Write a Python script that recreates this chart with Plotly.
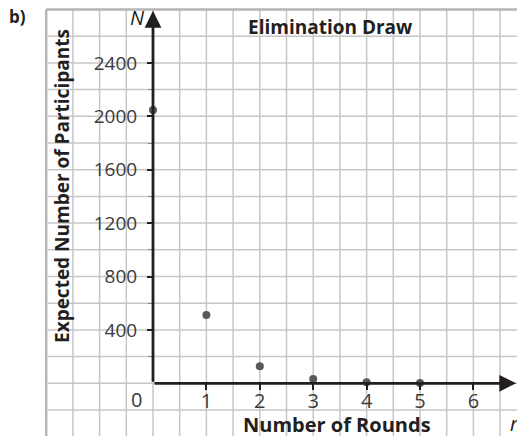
import plotly.graph_objects as go
import numpy as np

# Data
rounds = [0, 1, 2, 3, 4, 5]
participants = [2048, 512, 128, 32, 8, 2]

x_tick_vals = [1, 2, 3, 4, 5, 6]
x_tick_text = ["1", "2", "3", "4", "5", "6"]
y_tick_vals = [400, 800, 1200, 1600, 2000, 2400]
y_tick_text = ["400", "800", "1200", "1600", "2000", "2400"]

title_text = "Elimination Draw"
x_title = "Number of Rounds"
y_title = "Expected Number of Participants"

W, H = 517, 436
X0_PX, Y0_PX, UNIT = 153.0, 383.3, 53.4
x_range = [-X0_PX / UNIT, (W - X0_PX) / UNIT]
y_range = [-(H - Y0_PX) / UNIT * 400, Y0_PX / UNIT * 400]

GRID = "#c6c6c6"
BORDER = "#b4b4b6"
AXIS = "#231f20"
TEXT = "#231f20"
TICKC = "#3a3a3a"
FONT = "Open Sans"

fig = go.Figure()

shapes = []
# grid
for gx in np.arange(-2.0, 7.01, 0.5):
    shapes.append(dict(type="line", x0=gx, x1=gx, y0=-400, y1=2800, xref="x", yref="y",
                       line=dict(color=BORDER if gx == -2.0 else GRID, width=2.4 if gx == -2.0 else 1.5),
                       layer="below"))
for gy in np.arange(-400, 2801, 200):
    shapes.append(dict(type="line", x0=-2.0, x1=7.5, y0=gy, y1=gy, xref="x", yref="y",
                       line=dict(color=BORDER if gy == 2800 else GRID, width=2.4 if gy == 2800 else 1.5),
                       layer="below"))

fig.add_trace(go.Scatter(x=rounds, y=participants, mode="markers",
                         marker=dict(size=8, color="#58595b"), showlegend=False,
                         cliponaxis=False, hoverinfo="skip"))


def txt(px, py, text, size, **kw):
    d = dict(x=px / W, y=1 - py / H, xref="paper", yref="paper", text=text, showarrow=False,
             xanchor="center", yanchor="middle", font=dict(family=FONT, size=size, color=TEXT))
    d.update(kw)
    return d


annotations = [
    # y axis arrow
    dict(x=0, y=2790, ax=0, ay=0, xref="x", yref="y", axref="x", ayref="y",
         showarrow=True, arrowhead=2, arrowsize=1.2, arrowwidth=2.8, arrowcolor=AXIS, text="", standoff=0),
    # x axis arrow
    dict(x=6.8, y=0, ax=0, ay=0, xref="x", yref="y", axref="x", ayref="y",
         showarrow=True, arrowhead=2, arrowsize=1.2, arrowwidth=2.8, arrowcolor=AXIS, text="", standoff=0),
    dict(x=-0.3, y=-125, xref="x", yref="y", text="0", showarrow=False,
         xanchor="center", yanchor="middle",
         font=dict(family=FONT, size=20, color=TICKC)),
    txt(137, 17, "<i>N</i>", 20),
    txt(508, 423, "<i>n</i>", 20, xanchor="left"),
    txt(17, 16, "<b>b)</b>", 17),
    txt(330, 27, f"<b>{title_text}</b>", 19),
    txt(337, 424, f"<b>{x_title}</b>", 20),
    txt(62, 186, f"<b>{y_title}</b>", 19, textangle=-90),
]

fig.update_layout(
    width=W, height=H,
    margin=dict(l=0, r=0, t=0, b=0, autoexpand=False),
    paper_bgcolor="white", plot_bgcolor="white",
    shapes=shapes,
    annotations=annotations,
    hovermode=False,
    xaxis=dict(range=x_range, showgrid=False, zeroline=False, showline=False,
               anchor="free", position=1 - Y0_PX / H, automargin=False, fixedrange=True,
               tickvals=x_tick_vals, ticktext=x_tick_text, ticks="outside", ticklen=6,
               tickwidth=1.5, tickcolor=AXIS, ticklabelstandoff=-6,
               tickfont=dict(family=FONT, size=20, color=TICKC)),
    yaxis=dict(range=y_range, showgrid=False, zeroline=False, showline=False,
               anchor="free", position=X0_PX / W, automargin=False, fixedrange=True,
               tickvals=y_tick_vals, ticktext=y_tick_text, ticks="outside", ticklen=6,
               tickwidth=1.5, tickcolor=AXIS, ticklabelstandoff=6,
               minor=dict(tickvals=[200, 600, 1000, 1400, 1800, 2200], ticks="outside",
                          ticklen=5, tickcolor="#888888", tickwidth=1.2),
               tickfont=dict(family=FONT, size=19, color=TICKC)),
)

fig.write_html("out.html", config={"displayModeBar": False},
               post_script="document.body.style.margin='0';document.body.style.overflow='hidden';")
